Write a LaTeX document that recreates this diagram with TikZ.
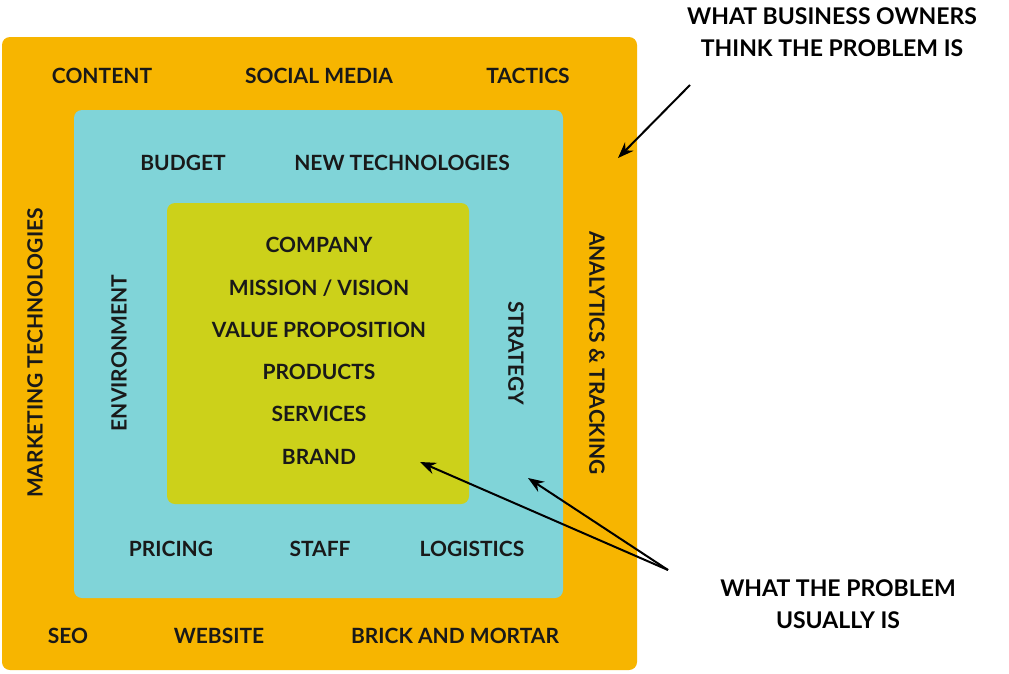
\documentclass[tikz,border=0pt]{standalone}
\usepackage{fontspec}
\usetikzlibrary{arrows.meta}
\setmainfont{Lato}
\definecolor{orng}{HTML}{F7B500}
\definecolor{teal}{HTML}{80D4D8}
\definecolor{lime}{HTML}{CCD11A}
\begin{document}
\begin{tikzpicture}[x=1pt,y=-1pt,
  lbl/.style={font=\fontsize{21}{25}\selectfont\bfseries,text=black!90,inner sep=0pt},
  big/.style={font=\fontsize{23}{32}\selectfont\bfseries,align=center,inner sep=0pt},
  arr/.style={-{Stealth[length=16pt,width=12pt]},line width=2pt}]
\useasboundingbox[fill=white] (0,0) rectangle (1009,673);
\node[fill=orng,rounded corners=8pt,minimum width=635pt,minimum height=633pt,inner sep=0pt] (outer) at (319.5,353.5) {};
\node[fill=teal,rounded corners=8pt,minimum width=489pt,minimum height=488pt,inner sep=0pt] (mid) at (318.5,354) {};
\node[fill=lime,rounded corners=8pt,minimum width=302pt,minimum height=301pt,inner sep=0pt] (core) at (318,353.5) {};
\node[lbl] (c1) at (102,76) {CONTENT};
\node[lbl] (c2) at (319,76) {SOCIAL MEDIA};
\node[lbl] (c3) at (528,76) {TACTICS};
\node[lbl] (b1) at (183,163) {BUDGET};
\node[lbl] (b2) at (402,163) {NEW TECHNOLOGIES};
\node[lbl] (i1) at (319,245) {COMPANY};
\node[lbl] (i2) at (319,288) {MISSION / VISION};
\node[lbl] (i3) at (319,330) {VALUE PROPOSITION};
\node[lbl] (i4) at (319,372) {PRODUCTS};
\node[lbl] (i5) at (319,414) {SERVICES};
\node[lbl] (i6) at (319,457) {BRAND};
\node[lbl,rotate=90] (env) at (119,353) {ENVIRONMENT};
\node[lbl,rotate=-90] (str) at (516,353) {STRATEGY};
\node[lbl,rotate=90] (mkt) at (35,353) {MARKETING TECHNOLOGIES};
\node[lbl,rotate=-90] (ana) at (597,353) {ANALYTICS \& TRACKING};
\node[lbl] (p1) at (171,549) {PRICING};
\node[lbl] (p2) at (320,549) {STAFF};
\node[lbl] (p3) at (472,549) {LOGISTICS};
\node[lbl] (s1) at (68,636) {SEO};
\node[lbl] (s2) at (219,636) {WEBSITE};
\node[lbl] (s3) at (455,636) {BRICK AND MORTAR};
\node[big] (top) at (832,32) {WHAT BUSINESS OWNERS\\THINK THE PROBLEM IS};
\node[big] (bot) at (838,604) {WHAT THE PROBLEM\\USUALLY IS};
\coordinate (ta) at (690,85);
\coordinate (tt) at (618,158);
\coordinate (ba) at (668,570);
\coordinate (b1t) at (420,462);
\coordinate (b2t) at (528,478);
\draw[arr] (ta) -- (tt);
\draw[arr] (ba) -- (b1t);
\draw[arr] (ba) -- (b2t);
\end{tikzpicture}
\end{document}
